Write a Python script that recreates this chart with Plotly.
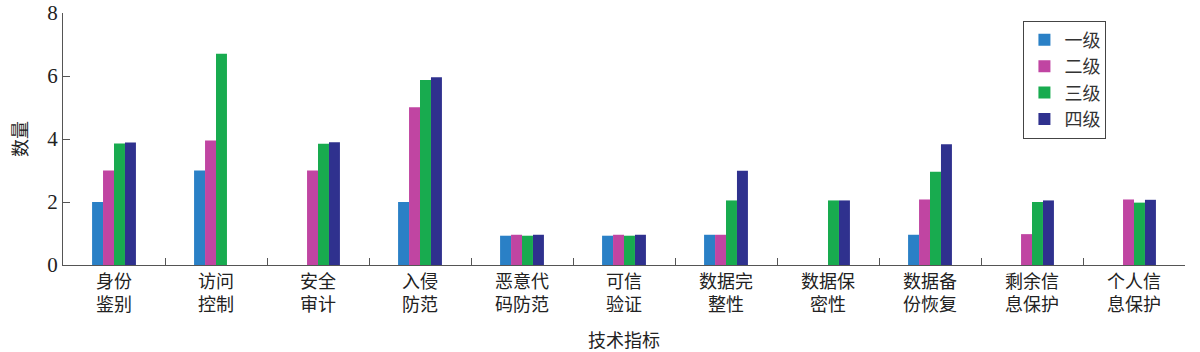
import plotly.graph_objects as go

categories = ["身份<br>鉴别", "访问<br>控制", "安全<br>审计", "入侵<br>防范", "恶意代<br>码防范",
              "可信<br>验证", "数据完<br>整性", "数据保<br>密性", "数据备<br>份恢复",
              "剩余信<br>息保护", "个人信<br>息保护"]
series_names = ["一级", "二级", "三级", "四级"]
level1 = [2, 3, None, 2, 0.93, 0.93, 0.96, None, 0.96, None, None]
level2 = [3, 3.95, 3, 5.01, 0.96, 0.96, 0.96, None, 2.08, 0.98, 2.08]
level3 = [3.86, 6.71, 3.85, 5.87, 0.93, 0.93, 2.05, 2.05, 2.96, 2.0, 1.98]
level4 = [3.89, None, 3.9, 5.96, 0.96, 0.96, 2.99, 2.05, 3.83, 2.05, 2.07]
colors = ["#2a80c6", "#c045a2", "#18ab4f", "#2f318e"]
y_ticks = [0, 2, 4, 6, 8]

fig = go.Figure()
for name, vals, col in zip(series_names, [level1, level2, level3, level4], colors):
    fig.add_trace(go.Bar(x=categories, y=vals, name=name, marker_color=col,
                         marker_line_width=0))

font_cjk = "Noto Sans CJK SC"
fig.update_layout(
    width=1200, height=352,
    margin=dict(l=63, r=15, t=13, b=87),
    paper_bgcolor="white", plot_bgcolor="white",
    barmode="group", bargap=0.57, bargroupgap=0,
    font=dict(family=font_cjk, size=18, color="#222"),
    legend=dict(x=0.856, y=0.97, xanchor="left", yanchor="top",
                bordercolor="#444", borderwidth=1, bgcolor="white",
                font=dict(family=font_cjk, size=18, color="#333"),
                tracegroupgap=0, itemwidth=30),
    showlegend=True,
)
fig.update_xaxes(
    automargin=False,
    showline=True, linecolor="#555", linewidth=1.2,
    ticks="inside", tickson="boundaries", ticklen=7, tickcolor="#555",
    tickfont=dict(family=font_cjk, size=18, color="#222"),
    title=dict(text="技术指标", font=dict(family=font_cjk, size=18, color="#222"), standoff=20),
    showgrid=False, zeroline=False,
)
fig.update_yaxes(
    automargin=False,
    range=[0, 8.0001], tickvals=y_ticks, ticklabeloverflow="allow",
    showline=True, linecolor="#555", linewidth=1.2,
    ticks="inside", ticklen=7, tickcolor="#555",
    tickfont=dict(family="Liberation Serif", size=21, color="#222"),
    title=dict(text="数量", font=dict(family=font_cjk, size=18, color="#222"), standoff=14),
    showgrid=False, zeroline=False,
)
fig.write_html("out.html")
